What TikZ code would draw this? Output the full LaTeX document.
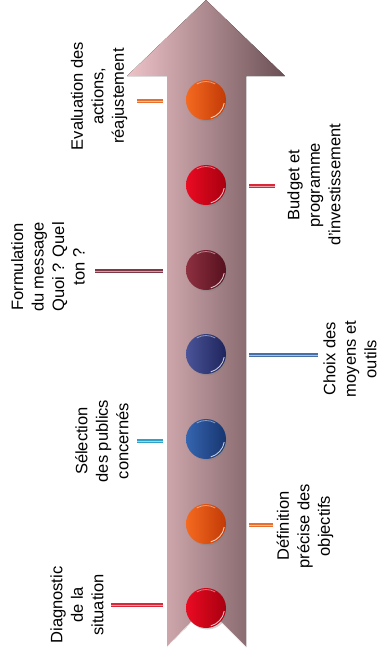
\documentclass[tikz,border=0pt]{standalone}
\usepackage{fontspec}
\setmainfont{Liberation Sans}
\usepackage{tikz}
\usetikzlibrary{shadows}
\definecolor{arwlight}{HTML}{EEC3C8}
\definecolor{arwdark}{HTML}{6A5055}
\definecolor{orgA}{HTML}{F56A20}
\definecolor{orgB}{HTML}{C23A06}
\definecolor{redA}{HTML}{EA0A22}
\definecolor{redB}{HTML}{A8000F}
\definecolor{marA}{HTML}{8E3040}
\definecolor{marB}{HTML}{56101E}
\definecolor{navA}{HTML}{4A5498}
\definecolor{navB}{HTML}{1E245C}
\definecolor{bluA}{HTML}{3565B0}
\definecolor{bluB}{HTML}{17356F}
\definecolor{lnorg}{HTML}{E8702E}
\definecolor{lnred}{HTML}{D8283A}
\definecolor{lnmar}{HTML}{7E3848}
\definecolor{lnblu}{HTML}{4870A8}
\definecolor{lncya}{HTML}{30A2C8}

\begin{document}
\begin{tikzpicture}[x=1pt,y=-1pt,
  ball/.style 2 args={circle,inner sep=0pt,minimum size=40pt,
    left color=#1,right color=#2,
    drop shadow={opacity=.35,shadow xshift=1.5pt,shadow yshift=-1.5pt},
    path picture={
      \draw[white,opacity=.75,line width=.9pt]
        (path picture bounding box.center) ++(-75:18.5pt) arc(-75:-10:18.5pt);
      \draw[white,opacity=.45,line width=.8pt]
        (path picture bounding box.center) ++(60:18.5pt) arc(60:120:18.5pt);}},
  lab/.style={rotate=90,align=center,font=\fontsize{16.5}{20.5}\selectfont},
  link/.style={draw=#1,line width=1.4pt,double=#1!45!white,double distance=.6pt}]
\useasboundingbox (0,0) rectangle (379,659);
%the big arrow
\fill[left color=arwlight,right color=arwdark]
  (206,0) -- (285,76) -- (246,76) -- (246,647) -- (206,607)
  -- (167,647) -- (167,76) -- (127,76) -- cycle;
\draw[white,line width=.6pt] (167,647) -- (206,607) -- (246,647);
%steps
\node[ball={redA}{redB}] (b1) at (206,608) {};
\node[ball={orgA}{orgB}] (b2) at (206,524) {};
\node[ball={bluA}{bluB}] (b3) at (206,439) {};
\node[ball={navA}{navB}] (b4) at (206,354) {};
\node[ball={marA}{marB}] (b5) at (206,270) {};
\node[ball={redA}{redB}] (b6) at (206,185) {};
\node[ball={orgA}{orgB}] (b7) at (206,100) {};
%texts
\node[lab] (t1) at (77,605) {Diagnostic\\de la\\situation};
\node[lab] (t2) at (305,526) {Définition\\précise des\\objectifs};
\node[lab] (t3) at (102,441) {Sélection\\des publics\\concernés};
\node[lab] (t4) at (350,359) {Choix des\\moyens et\\outils};
\node[lab] (t5) at (48,267) {Formulation\\du message\\Quoi ? Quel\\ton ?};
\node[lab] (t6) at (314,185) {Budget et\\programme\\d'investissement};
\node[lab] (t7) at (99,96) {Evaluation des\\actions,\\réajustement};
%small lines
\coordinate (l1a) at (111,605); \coordinate (l1b) at (163,605);
\coordinate (l2a) at (249,525); \coordinate (l2b) at (273,525);
\coordinate (l3a) at (137,441); \coordinate (l3b) at (163,441);
\coordinate (l4a) at (249,355); \coordinate (l4b) at (318,355);
\coordinate (l5a) at (95,271);  \coordinate (l5b) at (163,271);
\coordinate (l6a) at (249,186); \coordinate (l6b) at (275,186);
\coordinate (l7a) at (137,101); \coordinate (l7b) at (163,101);
\draw[link=lnred] (l1a) -- (l1b);
\draw[link=lnorg] (l2a) -- (l2b);
\draw[link=lncya] (l3a) -- (l3b);
\draw[link=lnblu] (l4a) -- (l4b);
\draw[link=lnmar] (l5a) -- (l5b);
\draw[link=lnred] (l6a) -- (l6b);
\draw[link=lnorg] (l7a) -- (l7b);
\end{tikzpicture}
\end{document}
